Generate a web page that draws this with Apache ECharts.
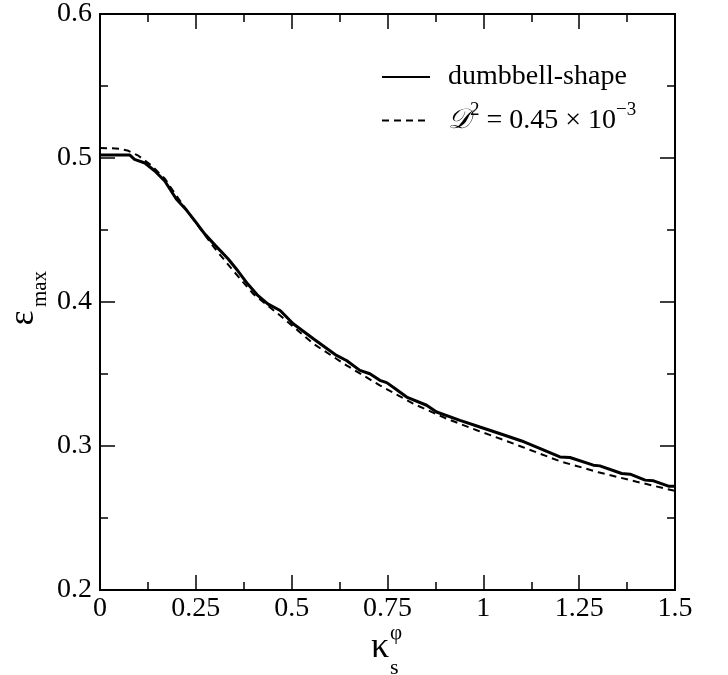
<!DOCTYPE html>
<html>
<head>
<meta charset="utf-8">
<script src="https://cdn.jsdelivr.net/npm/echarts@6/dist/echarts.min.js"></script>
<style>html,body{margin:0;padding:0;background:#fff}#c{width:728px;height:675px}</style>
</head>
<body>
<div id="c"></div>
<script>
// x: kappa_s^phi, y: epsilon_max
var solidX = [0, 0.078, 0.09, 0.117, 0.143, 0.169, 0.199, 0.225, 0.247, 0.273, 0.30, 0.334, 0.36, 0.385, 0.41, 0.4375, 0.47, 0.504, 0.5566, 0.617, 0.643, 0.678, 0.704, 0.73, 0.748, 0.774, 0.80, 0.852, 0.878, 0.939, 0.991, 1.05, 1.10, 1.15, 1.20, 1.226, 1.287, 1.304, 1.361, 1.383, 1.422, 1.444, 1.483, 1.5];
var solidY = [0.502, 0.502, 0.499, 0.4965, 0.491, 0.484, 0.4715, 0.464, 0.4565, 0.4473, 0.4395, 0.430, 0.4215, 0.4126, 0.405, 0.3987, 0.3941, 0.3849, 0.3745, 0.3629, 0.3594, 0.3525, 0.3502, 0.3456, 0.344, 0.3391, 0.334, 0.3283, 0.3236, 0.3178, 0.3132, 0.308, 0.3035, 0.298, 0.2924, 0.292, 0.2867, 0.2862, 0.2809, 0.2804, 0.2763, 0.2758, 0.2721, 0.2721];
var dashX = [0, 0.05, 0.074, 0.1, 0.135, 0.17, 0.2, 0.25, 0.3, 0.35, 0.4, 0.47, 0.5566, 0.643, 0.73, 0.817, 0.904, 0.983, 1.05, 1.1, 1.2, 1.3, 1.4, 1.5];
var dashY = [0.507, 0.5065, 0.505, 0.5016, 0.4946, 0.4854, 0.4735, 0.455, 0.437, 0.421, 0.4055, 0.3906, 0.371, 0.356, 0.3421, 0.3294, 0.319, 0.3109, 0.3045, 0.2995, 0.2894, 0.2818, 0.2752, 0.2688];
var xTicks = [0, 0.25, 0.5, 0.75, 1, 1.25, 1.5];
var yTicks = [0.2, 0.3, 0.4, 0.5, 0.6];
var seriesNames = ['dumbbell-shape', 'D2'];

function zip(a, b) { return a.map(function (v, i) { return [v, b[i]]; }); }

var FONT = '"Liberation Serif", "Times New Roman", "DejaVu Serif", serif';
var chart = echarts.init(document.getElementById('c'));

var X0 = xTicks[0], X1 = xTicks[xTicks.length - 1];
var Y0 = yTicks[0], Y1 = yTicks[yTicks.length - 1];

function axis(type, pos, min, max, interval, len, showLabel, labelOpt) {
  return {
    type: 'value', position: pos, min: min, max: max, interval: interval,
    axisLine: { show: true, onZero: false, lineStyle: { color: '#000', width: 2 } },
    axisTick: { show: true, inside: true, length: len, lineStyle: { color: '#000', width: 1.5 } },
    minorTick: { show: false },
    splitLine: { show: false },
    axisLabel: showLabel ? labelOpt : { show: false }
  };
}

var xLabel = { show: true, margin: 5, color: '#000', fontSize: 28, fontFamily: FONT,
  formatter: function (v) { return String(+v.toFixed(2)); } };
var yLabel = { show: true, margin: 8, color: '#000', fontSize: 28, fontFamily: FONT,
  formatter: function (v) { return String(+v.toFixed(1)); } };

chart.setOption({
  backgroundColor: '#fff',
  animation: false,
  grid: { left: 100, top: 13, right: 53, bottom: 85, containLabel: false },
  xAxis: [
    axis('x', 'bottom', X0, X1, 0.25, 15, true, xLabel),
    axis('x', 'top', X0, X1, 0.25, 15, false),
    axis('x', 'bottom', X0, X1, 0.125, 8, false),
    axis('x', 'top', X0, X1, 0.125, 8, false)
  ],
  yAxis: [
    axis('y', 'left', Y0, Y1, 0.1, 15, true, yLabel),
    axis('y', 'right', Y0, Y1, 0.1, 15, false),
    axis('y', 'left', Y0, Y1, 0.05, 8, false),
    axis('y', 'right', Y0, Y1, 0.05, 8, false)
  ],
  legend: {
    show: true,
    orient: 'vertical', left: 376, top: 58,
    itemWidth: 48, itemHeight: 14, itemGap: 10,
    data: seriesNames,
    itemStyle: { color: 'rgba(0,0,0,0)', borderWidth: 0, opacity: 0 },
    textStyle: { color: '#000', fontSize: 28, fontFamily: FONT, padding: [0, 0, 0, 13],
      rich: {
        c: { fontSize: 28, fontFamily: FONT, fontStyle: 'italic', color: '#000' },
        p: { fontSize: 19, fontFamily: FONT, color: '#000', padding: [0, 0, 20, 0] },
        t: { fontSize: 28, fontFamily: FONT, color: '#000' }
      } },
    formatter: function (name) {
      if (name === 'D2') return '{c|\uD835\uDC9F}{p|2}{t| = 0.45 \u00D7 10}{p|\u22123}';
      return name;
    }
  },
  graphic: [
    { type: 'text', left: 371, top: 630, style: { text: '\u03BA', font: '36px ' + FONT, fill: '#000' } },
    { type: 'text', left: 390, top: 623, style: { text: '\u03C6', font: '21px ' + FONT, fill: '#000' } },
    { type: 'text', left: 390, top: 657, style: { text: 's', font: '22px ' + FONT, fill: '#000' } },
    { type: 'text', x: 24, y: 318, rotation: Math.PI / 2, style: { text: '\u03B5', font: '36px ' + FONT, fill: '#000', align: 'center', verticalAlign: 'middle' } },
    { type: 'text', x: 40, y: 289, rotation: Math.PI / 2, style: { text: 'max', font: '21px ' + FONT, fill: '#000', align: 'center', verticalAlign: 'middle' } }
  ],
  series: [
    { name: seriesNames[0], type: 'line', xAxisIndex: 0, yAxisIndex: 0, data: zip(solidX, solidY), symbol: 'none',
      lineStyle: { color: '#000', width: 3, type: 'solid' }, itemStyle: { color: '#000' } },
    { name: seriesNames[1], type: 'line', xAxisIndex: 0, yAxisIndex: 0, data: zip(dashX, dashY), symbol: 'none',
      lineStyle: { color: '#000', width: 2, type: [7, 5] }, itemStyle: { color: '#000' } }
  ]
});
</script>
</body>
</html>
